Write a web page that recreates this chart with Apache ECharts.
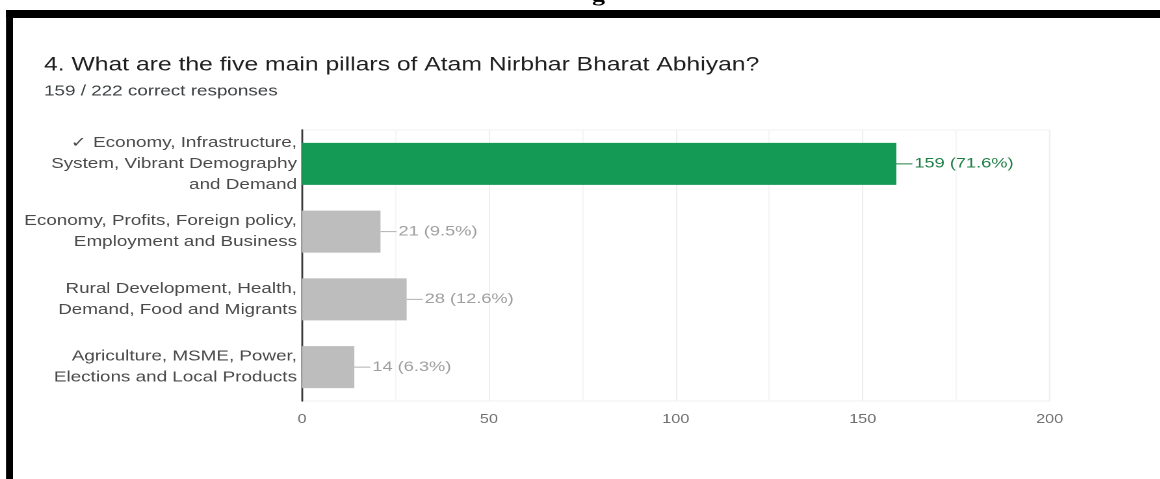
<!DOCTYPE html>
<html>
<head>
<meta charset="utf-8">
<title>Atam Nirbhar Bharat Abhiyan – quiz responses</title>
<script src="https://cdn.jsdelivr.net/npm/echarts@6/dist/echarts.min.js"></script>
<style>
  html, body { margin: 0; padding: 0; background: #ffffff; overflow: hidden; }
  #wrap { width: 1160px; height: 479px; overflow: hidden; position: relative; }
  /* the form chart is laid out narrow and widened horizontally */
  #chart { position: absolute; left: 0; top: 0; height: 479px; transform-origin: 0 0; }
</style>
</head>
<body>
<div id="wrap"><div id="chart"></div></div>
<script>
// ---- data ----
const questionTitle = '4. What are the five main pillars of Atam Nirbhar Bharat Abhiyan?';
const correctCount = 159;
const totalResponses = 222;
const answerOptions = [
  '\u2713 Economy, Infrastructure,\nSystem, Vibrant Demography\nand Demand',
  'Economy, Profits, Foreign policy,\nEmployment and Business',
  'Rural Development, Health,\nDemand, Food and Migrants',
  'Agriculture, MSME, Power,\nElections and Local Products'
];
const responseCounts = [159, 21, 28, 14];
const correctFlags = [true, false, false, false];
const axisTicks = [0, 50, 100, 150, 200];

// ---- layout ----
const STRETCH = 1.3;               // horizontal widening of the whole form card
const PAGE_W = 1160, PAGE_H = 479;
const W = PAGE_W / STRETCH;
const px = v => v / STRETCH;       // page x -> chart x

const chartDom = document.getElementById('chart');
chartDom.style.width = W + 'px';
chartDom.style.transform = 'scaleX(' + STRETCH + ')';

const GREEN = '#159a55';
const GREY = '#bdbdbd';
const FONT = '"Liberation Sans", Arial, sans-serif';

const chart = echarts.init(chartDom, null, { renderer: 'canvas', devicePixelRatio: 2 });

const pct = v => (Math.round(v / totalResponses * 1000) / 10).toFixed(1) + '%';

const option = {
  backgroundColor: '#ffffff',
  animation: false,
  textStyle: { fontFamily: FONT },
  title: {
    text: questionTitle,
    subtext: correctCount + ' / ' + totalResponses + ' correct responses',
    left: px(44),
    top: 56,
    padding: 0,
    itemGap: 9,
    textStyle: { fontFamily: FONT, fontSize: 19, fontWeight: 'normal', color: '#1f1f1f' },
    subtextStyle: { fontFamily: FONT, fontSize: 14.5, color: '#3c4043' }
  },
  grid: {
    left: px(302),
    right: (PAGE_W - 1050) / STRETCH,
    top: 130,
    bottom: PAGE_H - 401,
    show: true,
    borderColor: '#f1f1f1',
    borderWidth: 1,
    containLabel: false
  },
  xAxis: {
    type: 'value',
    min: axisTicks[0],
    max: axisTicks[axisTicks.length - 1],
    interval: axisTicks[1] - axisTicks[0],
    axisLine: { show: false },
    axisTick: { show: false },
    axisLabel: { color: '#707070', fontSize: 12.5, margin: 12, fontFamily: FONT },
    splitLine: { show: true, lineStyle: { color: '#eeeeee', width: 1 } },
    minorTick: { show: false, splitNumber: 2 },
    minorSplitLine: { show: true, lineStyle: { color: '#f5f5f5', width: 1 } }
  },
  yAxis: {
    type: 'category',
    inverse: true,
    data: answerOptions,
    axisLine: { show: true, lineStyle: { color: '#3a3a3a', width: 1.4 } },
    axisTick: { show: false },
    splitLine: { show: false },
    axisLabel: {
      color: '#4a4a4a',
      fontSize: 14.5,
      lineHeight: 21,
      margin: px(5),
      align: 'right',
      fontFamily: FONT
    }
  },
  series: [{
    type: 'bar',
    barWidth: 42,
    data: responseCounts.map((v, i) => ({
      value: v,
      itemStyle: { color: correctFlags[i] ? GREEN : GREY },
      label: {
        color: correctFlags[i] ? '#1e7f46' : '#9e9e9e',
        rich: {
          lead: { width: px(16), height: 1, backgroundColor: correctFlags[i] ? '#1e7f46' : '#b0b0b0' },
          val: { color: correctFlags[i] ? '#1e7f46' : '#9e9e9e', fontSize: 14, padding: [0, 0, 0, px(2)] }
        }
      }
    })),
    label: {
      show: true,
      position: 'right',
      distance: 0,
      fontFamily: FONT,
      fontSize: 14,
      formatter: p => '{lead|}{val|' + p.value + ' (' + pct(p.value) + ')}'
    }
  }],
  graphic: [
    // black frame of the pasted form card
    { type: 'rect', left: px(6), top: 10, shape: { width: (PAGE_W - 6) / STRETCH, height: 8 }, style: { fill: '#000000' }, silent: true },
    { type: 'rect', left: px(6), top: 10, shape: { width: px(7), height: PAGE_H - 10 }, style: { fill: '#000000' }, silent: true },
    // tail of the heading letter cut off above the card
    { type: 'text', left: px(592), top: -14, style: { text: 'g', font: 'bold 20px "Liberation Serif", serif', fill: '#000000' }, silent: true }
  ]
};

chart.setOption(option);
</script>
</body>
</html>
